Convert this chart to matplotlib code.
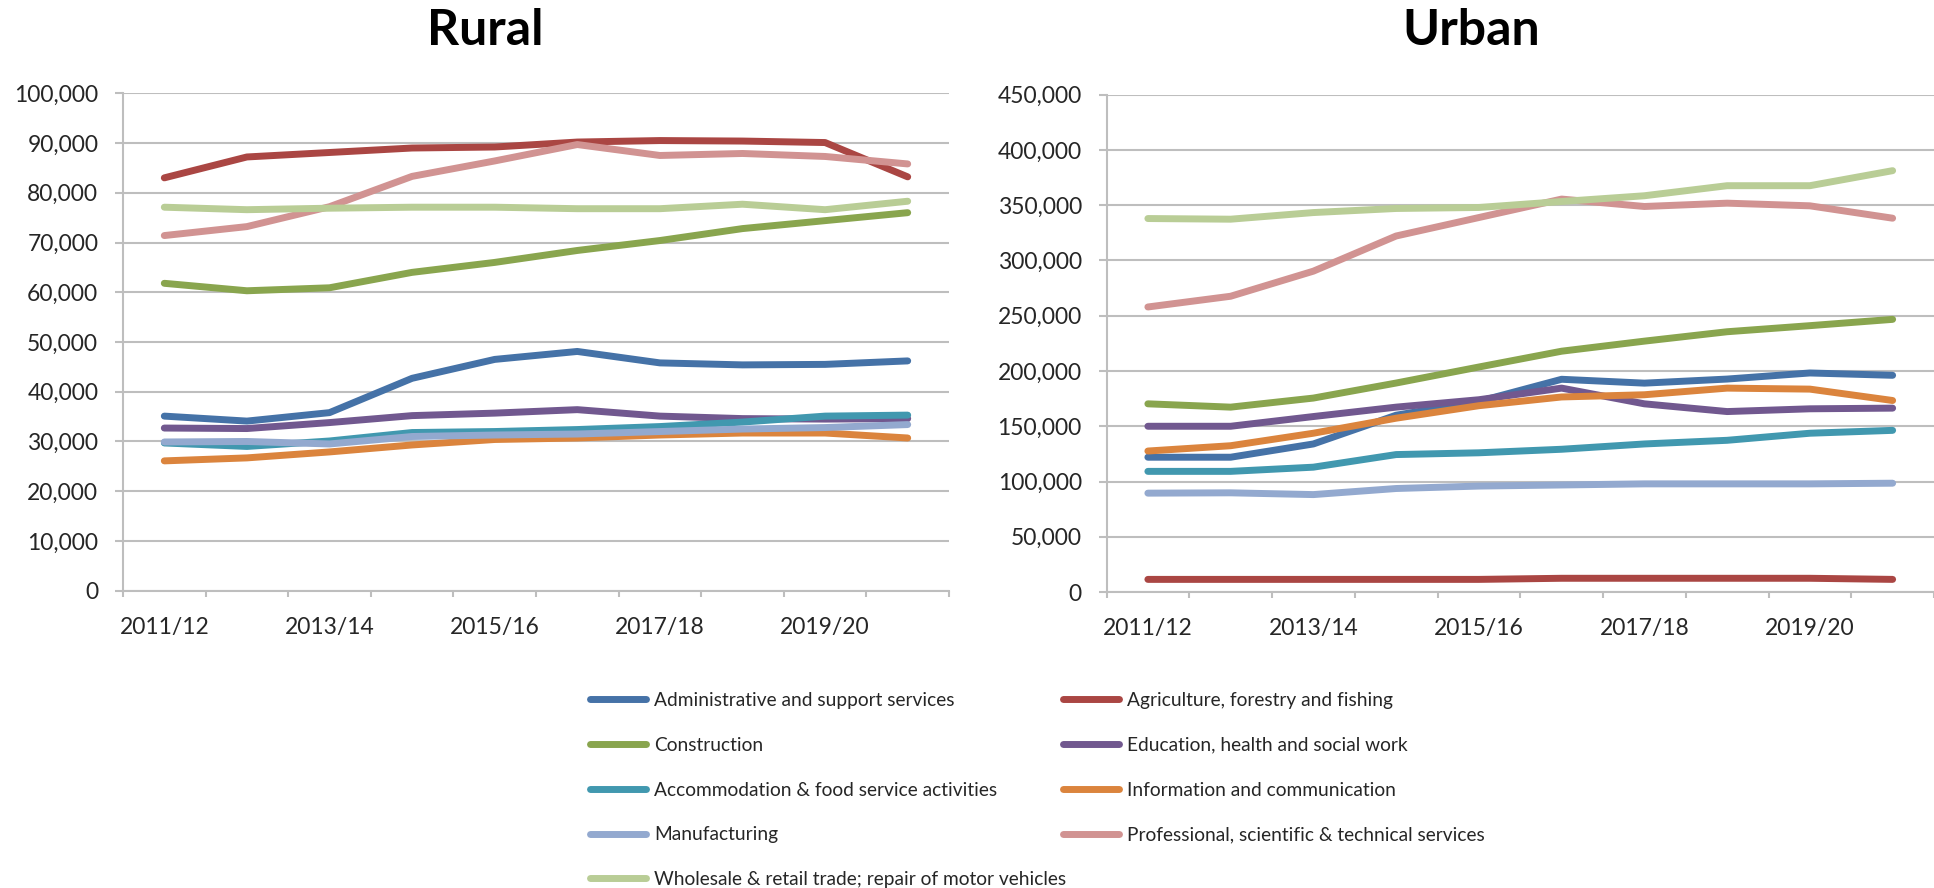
import matplotlib
matplotlib.use("Agg")
import matplotlib.pyplot as plt
from matplotlib.lines import Line2D

plt.rcParams['font.family'] = ['Lato', 'DejaVu Sans']

years = ["2011/12", "2012/13", "2013/14", "2014/15", "2015/16",
         "2016/17", "2017/18", "2018/19", "2019/20", "2020/21"]

series_names = [
    "Administrative and support services",
    "Agriculture, forestry and fishing",
    "Construction",
    "Education, health and social work",
    "Accommodation & food service activities",
    "Information and communication",
    "Manufacturing",
    "Professional, scientific & technical services",
    "Wholesale & retail trade; repair of motor vehicles",
]
colors = ["#4572A7", "#AA4643", "#89A54E", "#71588F", "#4198AF",
          "#DB843D", "#93A9CF", "#D19392", "#B9CD96"]

rural_admin = [35100, 34100, 35800, 42700, 46500, 48100, 45800, 45400, 45500, 46200]
rural_agri = [83000, 87200, 88100, 89000, 89200, 90200, 90500, 90400, 90100, 83200]
rural_constr = [61800, 60300, 60900, 64000, 66000, 68400, 70400, 72800, 74400, 76000]
rural_educ = [32700, 32600, 33800, 35200, 35700, 36400, 35100, 34600, 34500, 34600]
rural_accom = [29700, 29000, 30100, 31800, 32000, 32400, 33000, 33900, 35100, 35300]
rural_info = [26100, 26700, 27900, 29300, 30400, 30700, 31300, 31700, 31700, 30700]
rural_manuf = [29900, 30000, 29500, 31000, 31300, 31500, 32000, 32500, 32800, 33400]
rural_prof = [71400, 73200, 77200, 83300, 86400, 89700, 87500, 87900, 87300, 85800]
rural_whole = [77100, 76600, 76900, 77100, 77100, 76800, 76800, 77700, 76600, 78300]

urban_admin = [122000, 122000, 134000, 160000, 172500, 192500, 189000, 192700, 198200, 196100]
urban_agri = [11500, 11500, 11500, 11500, 11500, 12500, 12500, 12500, 12500, 11500]
urban_constr = [170300, 167300, 175500, 189100, 203600, 217900, 227000, 235500, 241000, 246700]
urban_educ = [150000, 150000, 158800, 167300, 174000, 184500, 170300, 163300, 165800, 166400]
urban_accom = [109200, 109200, 113000, 124400, 126000, 129200, 134000, 137300, 143700, 146300]
urban_info = [127600, 132400, 143700, 157300, 168600, 176500, 178500, 184500, 183600, 173300]
urban_manuf = [89500, 89800, 88200, 93700, 95900, 96900, 97900, 97900, 97900, 98500]
urban_prof = [257900, 267600, 290300, 322100, 338800, 355500, 348800, 351800, 349400, 338200]
urban_whole = [337900, 337300, 343300, 347000, 347900, 353300, 358500, 367600, 367600, 381200]

rural = [rural_admin, rural_agri, rural_constr, rural_educ, rural_accom,
         rural_info, rural_manuf, rural_prof, rural_whole]
urban = [urban_admin, urban_agri, urban_constr, urban_educ, urban_accom,
         urban_info, urban_manuf, urban_prof, urban_whole]

W, H = 1934, 888
fig = plt.figure(figsize=(W / 100, H / 100), dpi=100)

GRID = "#BEBEBE"
TXT = "#262626"
LW = 5.0


def px_axes(left, top, right, bottom):
    return fig.add_axes([left / W, 1 - bottom / H, (right - left) / W, (bottom - top) / H])


def style(ax, data, ymax, ystep, title, title_x):
    x = list(range(len(years)))
    for vals, c in zip(data, colors):
        ax.plot(x, vals, color=c, lw=LW, solid_capstyle='round', solid_joinstyle='round')
    ax.set_xlim(-0.5, len(years) - 0.5)
    ax.set_ylim(0, ymax)
    yt = list(range(0, ymax + 1, ystep))
    ax.set_yticks(yt)
    ax.set_yticklabels([f"{v:,}" for v in yt])
    ax.yaxis.grid(True, color=GRID, lw=1.5)
    ax.set_axisbelow(True)
    for s in ("top", "right"):
        ax.spines[s].set_visible(False)
    for s in ("left", "bottom"):
        ax.spines[s].set_color(GRID)
        ax.spines[s].set_linewidth(1.5)
    ax.tick_params(axis='y', length=5.8, width=1.5, color=GRID, pad=12,
                   labelsize=16.5, labelcolor=TXT)
    # category boundaries as major ticks, labels on every other category as minor
    ax.set_xticks([i - 0.5 for i in range(len(years) + 1)])
    ax.set_xticklabels([])
    ax.set_xticks(x[::2], minor=True)
    ax.set_xticklabels(years[::2], minor=True)
    ax.tick_params(axis='x', which='major', length=4.5, width=1.5, color=GRID)
    ax.tick_params(axis='x', which='minor', length=0, pad=19,
                   labelsize=16.5, labelcolor=TXT)
    fig.text(title_x / W, 1 - 45 / H, title, ha='center', va='baseline',
             fontsize=36, fontweight='bold', color='black')


ax1 = px_axes(123, 93.3, 949, 590.7)
style(ax1, rural, 100000, 10000, "Rural", 485)
ax2 = px_axes(1106.5, 94.6, 1934, 592.1)
style(ax2, urban, 450000, 50000, "Urban", 1471)

handles = [Line2D([0], [0], color=c, lw=LW, solid_capstyle='round') for c in colors]
col1 = [0, 2, 4, 6, 8]
col2 = [1, 3, 5, 7]
common = dict(frameon=False, fontsize=13.8, handlelength=2.9, handletextpad=0.45,
              labelspacing=1.45, borderaxespad=0, borderpad=0,
              labelcolor=TXT)
leg1 = fig.legend([handles[i] for i in col1], [series_names[i] for i in col1],
                  loc='upper left', bbox_to_anchor=(590 / W, 1 - 692 / H), **common)
leg2 = fig.legend([handles[i] for i in col2], [series_names[i] for i in col2],
                  loc='upper left', bbox_to_anchor=(1063 / W, 1 - 692 / H), **common)

fig.savefig("out.png", dpi=100)
